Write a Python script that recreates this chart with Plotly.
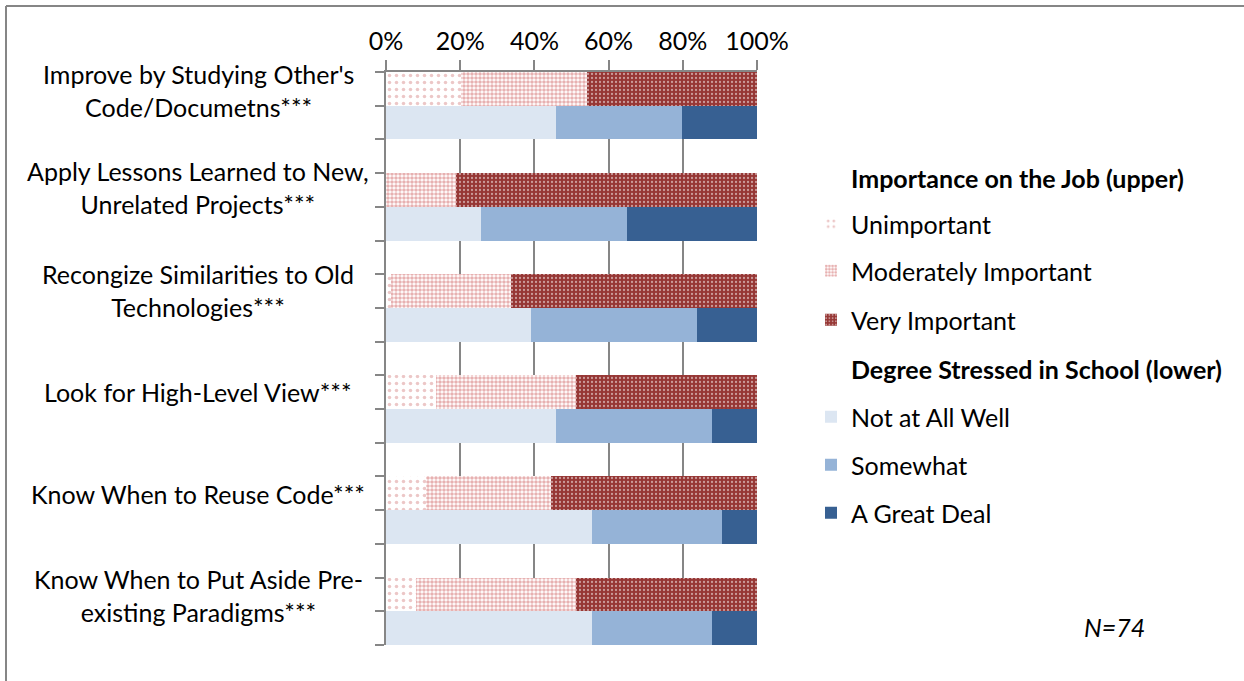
import plotly.graph_objects as go

# ---- data (percent of respondents, N=74) ----
categories = [
    "Improve by Studying Other's<br>Code/Documetns***",
    "Apply Lessons Learned to New,<br>Unrelated Projects***",
    "Recongize Similarities to Old<br>Technologies***",
    "Look for High-Level View***",
    "Know When to Reuse Code***",
    "Know When to Put Aside Pre-<br>existing Paradigms***",
]
unimportant = [20.3, 0.0, 1.4, 13.5, 10.8, 8.1]
moderately_important = [33.8, 18.9, 32.4, 37.8, 33.8, 43.2]
very_important = [45.9, 81.1, 66.2, 48.7, 55.4, 48.7]

not_at_all_well = [45.9, 25.7, 39.2, 45.9, 55.4, 55.4]
somewhat = [33.8, 39.2, 44.6, 41.9, 35.1, 32.4]
a_great_deal = [20.3, 35.1, 16.2, 12.2, 9.5, 12.2]

x_ticks = [0, 20, 40, 60, 80, 100]

# ---- layout geometry (pixels) ----
W, H = 1244, 681
PL, PR, PT, PB = 386, 757, 72, 645
FONT = "Lato"
FS = 25

n = len(categories)
upper_pos = [3 * i for i in range(n)]
lower_pos = [3 * i + 1 for i in range(n)]


def cx(px):
    return px / W


def cy(py):
    return 1 - py / H


def px_x(px):
    return (px - PL) / (PR - PL)


def px_y(py):
    return (PB - py) / (PB - PT)


fig = go.Figure()

upper_series = [
    ("Unimportant", unimportant,
     dict(shape=".", fgcolor="#d98f8f", bgcolor="white", size=7, solidity=0.2)),
    ("Moderately Important", moderately_important,
     dict(shape=".", fgcolor="#d06464", bgcolor="white", size=4, solidity=0.62)),
    ("Very Important", very_important,
     dict(shape=".", fgcolor="white", bgcolor="#963634", size=4, solidity=0.25)),
]
lower_series = [
    ("Not at All Well", not_at_all_well, "#dce6f2"),
    ("Somewhat", somewhat, "#95b3d7"),
    ("A Great Deal", a_great_deal, "#376092"),
]

legend_rows = [224, 271, 320, 417, 465, 513]
legend_names = ["legend", "legend2", "legend3", "legend4", "legend5", "legend6"]

k = 0
for name, vals, pat in upper_series:
    fig.add_trace(go.Bar(
        name=name, x=vals, y=upper_pos, orientation="h", width=1.0,
        marker=dict(color=pat["bgcolor"], pattern=pat, line=dict(width=0)),
        legend=legend_names[k], hoverinfo="x+name",
    ))
    k += 1
for name, vals, col in lower_series:
    fig.add_trace(go.Bar(
        name=name, x=vals, y=lower_pos, orientation="h", width=1.0,
        marker=dict(color=col, line=dict(width=0)),
        legend=legend_names[k], hoverinfo="x+name",
    ))
    k += 1

legend_cfg = {}
for ln, row in zip(legend_names, legend_rows):
    legend_cfg[ln] = dict(
        xref="container", yref="container",
        x=cx(811), y=cy(row), xanchor="left", yanchor="middle",
        font=dict(family=FONT, size=FS, color="#000000"),
        bgcolor="rgba(0,0,0,0)", borderwidth=0,
    )

annotations = []
label_centers = [90, 188, 290, 392, 494, 595]
for text, yc in zip(categories, label_centers):
    annotations.append(dict(
        xref="paper", yref="paper", x=px_x(198), y=px_y(yc),
        text=text, showarrow=False, xanchor="center", yanchor="middle",
        align="center", font=dict(family=FONT, size=FS, color="#000000"),
    ))
for title, yc in [("Importance on the Job (upper)", 178),
                  ("Degree Stressed in School (lower)", 369)]:
    annotations.append(dict(
        xref="paper", yref="paper", x=px_x(849), y=px_y(yc),
        text="<b>" + title + "</b>", showarrow=False,
        xanchor="left", yanchor="middle",
        font=dict(family=FONT, size=FS, color="#000000"),
    ))
annotations.append(dict(
    xref="paper", yref="paper", x=px_x(1114), y=px_y(627),
    text="<i>N=74</i>", showarrow=False, xanchor="center", yanchor="middle",
    font=dict(family=FONT, size=FS, color="#000000"),
))

# chart frame (left and top edges)
shapes = [
    dict(type="line", xref="paper", yref="paper",
         x0=px_x(6), x1=px_x(6), y0=px_y(6), y1=px_y(700),
         line=dict(color="#868686", width=2)),
    dict(type="line", xref="paper", yref="paper",
         x0=px_x(6), x1=px_x(1260), y0=px_y(6), y1=px_y(6),
         line=dict(color="#868686", width=2)),
]

fig.update_layout(
    width=W, height=H,
    margin=dict(l=PL, r=W - PR, t=PT, b=H - PB),
    barmode="stack", bargap=0,
    paper_bgcolor="white", plot_bgcolor="white",
    showlegend=True,
    annotations=annotations, shapes=shapes,
    font=dict(family=FONT, size=FS, color="#000000"),
    **legend_cfg,
)
fig.update_xaxes(
    side="top", range=[0, 100], tickvals=x_ticks,
    ticktext=[f"{v}%" for v in x_ticks],
    showgrid=True, gridcolor="#868686", gridwidth=2,
    showline=True, linecolor="#868686", linewidth=2,
    ticks="outside", ticklen=10, tickwidth=2, tickcolor="#868686",
    tickfont=dict(family=FONT, size=FS, color="#000000"),
    zeroline=False, fixedrange=True,
)
fig.update_yaxes(
    range=[3 * n - 1.5, -0.5],
    tickvals=[i - 0.5 for i in range(3 * n)],
    ticktext=["" for _ in range(3 * n)],
    showgrid=False, zeroline=False,
    showline=True, linecolor="#868686", linewidth=2,
    ticks="outside", ticklen=9, tickwidth=2, tickcolor="#868686",
    fixedrange=True,
)

fig.write_html("out.html")
